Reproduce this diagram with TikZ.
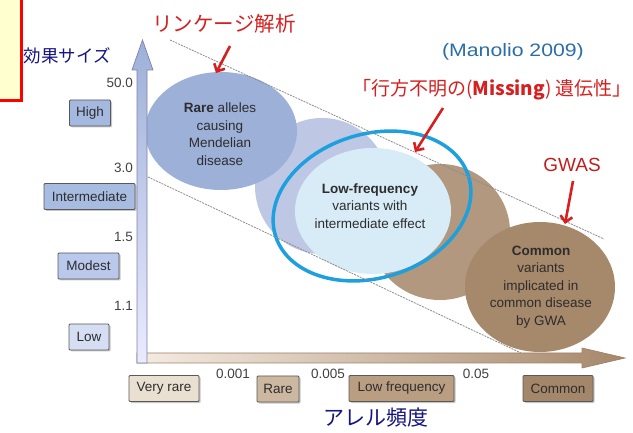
\documentclass[tikz,border=0pt]{standalone}
\usepackage{fontspec}
\setmainfont{Liberation Sans}
\newfontfamily\jp{Noto Sans CJK JP}
\usetikzlibrary{arrows.meta,shadows}
\definecolor{yellowbox}{RGB}{255,255,208}
\definecolor{redtxt}{RGB}{214,32,32}
\definecolor{navytxt}{RGB}{20,20,130}
\definecolor{steeltxt}{RGB}{42,110,168}
\definecolor{rareblue}{RGB}{156,176,216}
\definecolor{lavblob}{RGB}{190,200,228}
\definecolor{lowfill}{RGB}{216,236,248}
\definecolor{ringblue}{RGB}{30,160,222}
\definecolor{brownA}{RGB}{178,152,126}
\definecolor{brownB}{RGB}{166,136,106}
\definecolor{bxHigh}{RGB}{164,184,224}
\definecolor{bxInt}{RGB}{168,188,226}
\definecolor{bxMod}{RGB}{186,200,236}
\definecolor{bxLow}{RGB}{214,222,244}
\definecolor{bxVR}{RGB}{234,224,210}
\definecolor{bxR}{RGB}{204,184,160}
\definecolor{bxLF}{RGB}{186,158,130}
\definecolor{bxC}{RGB}{164,134,106}
\definecolor{txtgray}{RGB}{45,45,45}
\tikzset{
  catbox/.style={draw=black!65, line width=0.8pt, rounded corners=1pt,
    minimum height=26, inner sep=0pt, text=txtgray,
    font=\fontsize{13.5}{15}\selectfont,
    drop shadow={shadow xshift=1.5pt, shadow yshift=-1.5pt, opacity=0.45}},
  axnum/.style={text=black!75, font=\fontsize{13.5}{15}\selectfont, inner sep=0pt},
  blobtxt/.style={text=txtgray, align=center, inner sep=0pt,
    font=\fontsize{13.5}{17.5}\selectfont},
  redarrow/.style={draw=redtxt, line width=2.6pt, -{Straight Barb[length=6pt,width=12pt]}},
  guide/.style={draw=black!45, line width=0.8pt, dash pattern=on 2pt off 1pt}
}
\begin{document}
\begin{tikzpicture}[x=1pt,y=-1pt]
\useasboundingbox (0,0) rectangle (633,433);
% note box at top left
\draw[draw=red, line width=3pt, fill=yellowbox] (-6,-6) rectangle (21,101);
% blobs
\fill[brownA] (440,232) ellipse [x radius=70, y radius=68];
\fill[brownB] (540,287) ellipse [x radius=75, y radius=65];
\fill[lavblob] (322,186) ellipse [x radius=67, y radius=68];
\fill[rareblue] (221,131) ellipse [x radius=76, y radius=59];
\fill[lowfill] (373,211) ellipse [x radius=78, y radius=63];
\draw[ringblue, line width=3.5pt] (372,206) ellipse [x radius=101, y radius=72, rotate=17];
% guide lines
\coordinate (g1a) at (170,40);  \coordinate (g1b) at (604,239);
\coordinate (g2a) at (148,177); \coordinate (g2b) at (521,353);
\draw[guide] (g1a) -- (g1b);
\draw[guide] (g2a) -- (g2b);
% axes
\shade[left color=brown!15!white, right color=brownB, draw=brown!60!black!70, line width=0.7pt]
  (137,353) -- (582,353) -- (582,348) -- (625,358) -- (582,368) -- (582,363) -- (137,363) -- cycle;
\shade[top color=rareblue, bottom color=blue!8!white, draw=blue!30!black!50, line width=0.7pt]
  (137,363) -- (137,70) -- (132,70) -- (142.5,40) -- (153,70) -- (147,70) -- (147,363) -- cycle;
% blob texts
\node[blobtxt] (rare) at (220,134) {\textbf{Rare} alleles\\causing\\Mendelian\\disease};
\node[blobtxt] (lowf) at (370,206) {\textbf{Low-frequency}\\variants with\\intermediate effect};
\node[blobtxt] (comm) at (541,287) {\textbf{Common}\\variants\\implicated in\\common disease\\by GWA};
% y axis boxes and numbers
\node[catbox, fill=bxHigh, minimum width=41] (high) at (90,113) {High};
\node[catbox, fill=bxInt, minimum width=91] (inter) at (89.5,196.5) {Intermediate};
\node[catbox, fill=bxMod, minimum width=61] (modest) at (88.5,266) {Modest};
\node[catbox, fill=bxLow, minimum width=40] (low) at (89,337) {Low};
\node[axnum, anchor=east] (n50) at (133,83) {50.0};
\node[axnum, anchor=east] (n3) at (133,168) {3.0};
\node[axnum, anchor=east] (n15) at (133,237) {1.5};
\node[axnum, anchor=east] (n11) at (133,306) {1.1};
% x axis boxes and numbers
\node[catbox, fill=bxVR, minimum width=70] (vrare) at (164,388.5) {Very rare};
\node[catbox, fill=bxR, minimum width=42] (rarebx) at (278,389) {Rare};
\node[catbox, fill=bxLF, minimum width=105] (lfbx) at (401.5,388.5) {Low frequency};
\node[catbox, fill=bxC, minimum width=70] (combx) at (558,388.5) {Common};
\node[axnum] (x001) at (233,374) {0.001};
\node[axnum] (x005) at (328,374) {0.005};
\node[axnum] (x05) at (476,374) {0.05};
% axis titles
\node[text=navytxt, font=\jp\fontsize{17.5}{20}\selectfont, inner sep=0pt] (ytitle) at (67,56) {効果サイズ};
\node[text=navytxt, font=\jp\fontsize{21}{24}\selectfont, inner sep=0pt] (xtitle) at (376,418) {アレル頻度};
% annotations
\node[text=steeltxt, font=\fontsize{18}{20}\selectfont, inner sep=0pt, xscale=1.18] (ref) at (513,52) {(Manolio 2009)};
\node[text=redtxt, font=\jp\fontsize{20.5}{23}\selectfont, inner sep=0pt] (link) at (224,24) {リンケージ解析};
\node[text=redtxt, font=\jp\fontsize{19}{22}\selectfont, inner sep=0pt] (miss) at (492,90) {「行方不明の(\textbf{Missing}) 遺伝性」};
\node[text=redtxt!90!black, font=\fontsize{19}{21}\selectfont, inner sep=0pt] (gwas) at (572,165) {GWAS};
\coordinate (linktip) at (216,73);
\coordinate (linktail) at (230,46);
\coordinate (misstip) at (415,152);
\coordinate (misstail) at (443,108);
\coordinate (gwastip) at (565,224);
\coordinate (gwastail) at (573,181);
\draw[redarrow] (linktail) -- (linktip);
\draw[redarrow] (misstail) -- (misstip);
\draw[redarrow] (gwastail) -- (gwastip);
\end{tikzpicture}
\end{document}
